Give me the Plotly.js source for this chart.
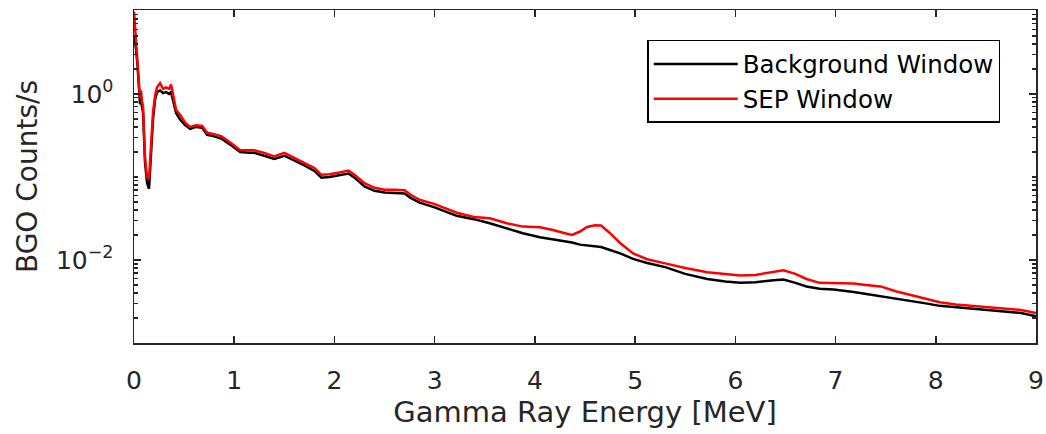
<!DOCTYPE html>
<html>
<head>
<meta charset="utf-8">
<script src="https://cdn.plot.ly/plotly-3.0.1.min.js"></script>
<style>
html,body{margin:0;padding:0;background:#fff;}
#chart{width:1046px;height:434px;}
</style>
</head>
<body>
<div id="chart"></div>
<script>
// Energy grid (MeV)
const energy = [0, 0.02, 0.035, 0.05, 0.06, 0.07, 0.08, 0.09, 0.11, 0.13, 0.15, 0.17, 0.19, 0.21, 0.23, 0.26, 0.29, 0.32, 0.35, 0.37, 0.39, 0.42, 0.46, 0.51, 0.56, 0.62, 0.68, 0.73, 0.79, 0.87, 0.96, 1.06, 1.15, 1.2, 1.3, 1.4, 1.5, 1.6, 1.7, 1.8, 1.87, 1.95, 2.05, 2.14, 2.2, 2.3, 2.4, 2.5, 2.6, 2.7, 2.76, 2.85, 3.0, 3.12, 3.22, 3.39, 3.55, 3.72, 3.88, 4.05, 4.18, 4.3, 4.37, 4.45, 4.52, 4.6, 4.66, 4.75, 4.85, 4.98, 5.12, 5.3, 5.5, 5.72, 5.9, 6.05, 6.2, 6.38, 6.48, 6.6, 6.71, 6.84, 6.98, 7.18, 7.3, 7.45, 7.6, 7.75, 7.9, 8.04, 8.2, 8.34, 8.5, 8.67, 8.85, 9.0];

// Background Window counts/s
const backgroundWindow = [5, 3.5, 2.2, 1.0, 0.75, 0.8, 0.65, 0.6, 0.15, 0.085, 0.072, 0.2, 0.5, 0.85, 1.05, 1.1, 1.02, 1.05, 1.0, 1.05, 0.85, 0.59, 0.49, 0.42, 0.38, 0.40, 0.39, 0.32, 0.31, 0.29, 0.245, 0.2, 0.195, 0.195, 0.18, 0.165, 0.18, 0.158, 0.138, 0.118, 0.098, 0.1, 0.104, 0.11, 0.098, 0.077, 0.068, 0.065, 0.064, 0.063, 0.056, 0.049, 0.043, 0.038, 0.034, 0.031, 0.0277, 0.024, 0.021, 0.0188, 0.0178, 0.0166, 0.0162, 0.0153, 0.015, 0.0147, 0.0143, 0.0132, 0.012, 0.0103, 0.0092, 0.0082, 0.0068, 0.0059, 0.0055, 0.0053, 0.0054, 0.0057, 0.0058, 0.0053, 0.0048, 0.0045, 0.0044, 0.0041, 0.0039, 0.0036, 0.0034, 0.0032, 0.003, 0.0028, 0.0027, 0.0026, 0.0025, 0.0024, 0.0023, 0.0021];

// SEP Window counts/s
const sepWindow = [9.8, 3.9, 2.7, 1.3, 0.9, 1.1, 0.8, 0.72, 0.17, 0.10, 0.095, 0.25, 0.6, 0.95, 1.2, 1.35, 1.15, 1.2, 1.15, 1.3, 0.95, 0.64, 0.56, 0.45, 0.40, 0.42, 0.41, 0.34, 0.33, 0.31, 0.26, 0.21, 0.21, 0.21, 0.195, 0.176, 0.195, 0.17, 0.148, 0.128, 0.106, 0.108, 0.113, 0.119, 0.106, 0.084, 0.074, 0.070, 0.070, 0.069, 0.061, 0.053, 0.047, 0.041, 0.037, 0.033, 0.0318, 0.0277, 0.0252, 0.0248, 0.023, 0.021, 0.020, 0.022, 0.025, 0.0262, 0.026, 0.021, 0.016, 0.012, 0.0102, 0.0091, 0.008, 0.0071, 0.0067, 0.0065, 0.0066, 0.0072, 0.0075, 0.0068, 0.0059, 0.0053, 0.0053, 0.0052, 0.005, 0.0048, 0.0042, 0.0038, 0.0034, 0.0031, 0.0029, 0.0028, 0.0027, 0.0026, 0.0025, 0.0023];

const seriesNames = ["Background Window", "SEP Window"];
const xTickVals = [0, 1, 2, 3, 4, 5, 6, 7, 8, 9];
const yTickVals = [0.01, 1];
const yTickText = ["10<sup>\u22122</sup>", "10<sup>0</sup>"];

const textColor = "#262626";
const fontFamily = "DejaVu Sans, sans-serif";

const traces = [
  {x: energy, y: backgroundWindow, name: seriesNames[0], type: "scatter", mode: "lines",
   line: {color: "#000000", width: 2.5}},
  {x: energy, y: sepWindow, name: seriesNames[1], type: "scatter", mode: "lines",
   line: {color: "#ff0000", width: 2.5}}
];

const layout = {
  width: 1046, height: 434,
  margin: {l: 134, r: 10, t: 10, b: 91, pad: 0},
  paper_bgcolor: "#ffffff", plot_bgcolor: "#ffffff",
  font: {family: fontFamily, color: textColor, size: 24},
  showlegend: true,
  legend: {
    x: 0.569, y: 0.91, xanchor: "left", yanchor: "top",
    bgcolor: "#ffffff", bordercolor: "#000000", borderwidth: 1.5,
    font: {family: fontFamily, size: 24.5, color: "#000000"},
    itemwidth: 84, tracegroupgap: 0
  },
  xaxis: {
    range: [0, 9], tickmode: "array", tickvals: xTickVals,
    ticks: "inside", ticklen: 7, tickwidth: 1.5, tickcolor: textColor,
    showline: true, linecolor: textColor, linewidth: 1.5, mirror: "ticks",
    showgrid: false, zeroline: false,
    tickfont: {family: fontFamily, size: 25, color: textColor},
    ticklabelstandoff: 14,
    title: {text: "Gamma Ray Energy [MeV]", font: {family: fontFamily, size: 29, color: textColor}, standoff: 8}
  },
  yaxis: {
    type: "log", range: [-3, 1.01], tickmode: "array", tickvals: yTickVals, ticktext: yTickText,
    ticks: "inside", ticklen: 7, tickwidth: 1.5, tickcolor: textColor,
    minor: {ticks: "inside", ticklen: 4, tickcolor: textColor, dtick: "D1", showgrid: false},
    showline: true, linecolor: textColor, linewidth: 1.5, mirror: "ticks",
    showgrid: false, zeroline: false,
    tickfont: {family: fontFamily, size: 25, color: textColor},
    ticklabelstandoff: 14,
    title: {text: "BGO Counts/s", font: {family: fontFamily, size: 28, color: textColor}, standoff: 10}
  }
};

Plotly.newPlot("chart", traces, layout, {displayModeBar: false, staticPlot: true});
</script>
</body>
</html>
